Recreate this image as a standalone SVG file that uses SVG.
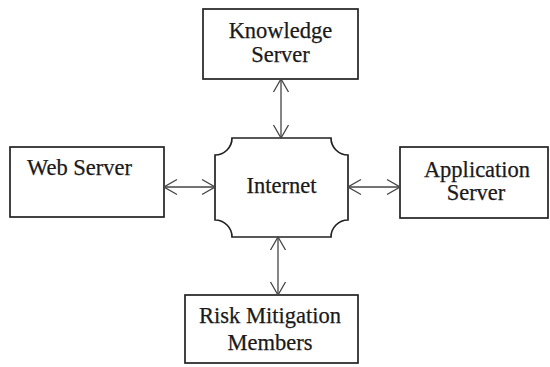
<svg xmlns="http://www.w3.org/2000/svg" width="550" height="367" viewBox="0 0 550 367">
<style>
.box{fill:#fff;stroke:#222;stroke-width:1.7}
.t{font-family:"Liberation Serif","Times New Roman",serif;font-size:22.5px;fill:#1a1a1a;stroke:#1a1a1a;stroke-width:0.25;text-anchor:middle}
.c{stroke:#444;stroke-width:1.3;fill:none;marker-start:url(#ah);marker-end:url(#ah)}
</style>
<defs>
<marker id="ah" viewBox="0 0 15 18" refX="14" refY="9" markerWidth="15" markerHeight="18" markerUnits="userSpaceOnUse" orient="auto-start-reverse">
<path d="M1,1.5 L14,9 L1,16.5" fill="none" stroke="#444" stroke-width="1.3"/>
</marker>
</defs>
<rect width="550" height="367" fill="#fff"/>
<g id="knowledge">
<rect class="box" x="203" y="9" width="155" height="70"/>
<text class="t" x="280.5" y="38">Knowledge</text>
<text class="t" x="280.5" y="62">Server</text>
</g>
<g id="web">
<rect class="box" x="10" y="147" width="154" height="70"/>
<text class="t" x="27" y="175" style="text-anchor:start">Web Server</text>
</g>
<g id="internet">
<path class="box" d="M232,138 L331,138 A17,17 0 0 0 348,155 L348,220 A17,17 0 0 0 331,237 L232,237 A17,17 0 0 0 215,220 L215,155 A17,17 0 0 0 232,138 Z"/>
<text class="t" x="281.5" y="193">Internet</text>
</g>
<g id="application">
<rect class="box" x="400" y="147" width="148" height="71"/>
<text class="t" x="477" y="177">Application</text>
<text class="t" x="476" y="200">Server</text>
</g>
<g id="risk">
<rect class="box" x="185" y="295" width="173" height="68"/>
<text class="t" x="270" y="323">Risk Mitigation</text>
<text class="t" x="270" y="350">Members</text>
</g>
<g id="connectors">
<line class="c" x1="281" y1="79" x2="281" y2="138"/>
<line class="c" x1="164" y1="187" x2="215" y2="187"/>
<line class="c" x1="348" y1="187" x2="400" y2="187"/>
<line class="c" x1="278" y1="237" x2="278" y2="295"/>
</g>
</svg>
